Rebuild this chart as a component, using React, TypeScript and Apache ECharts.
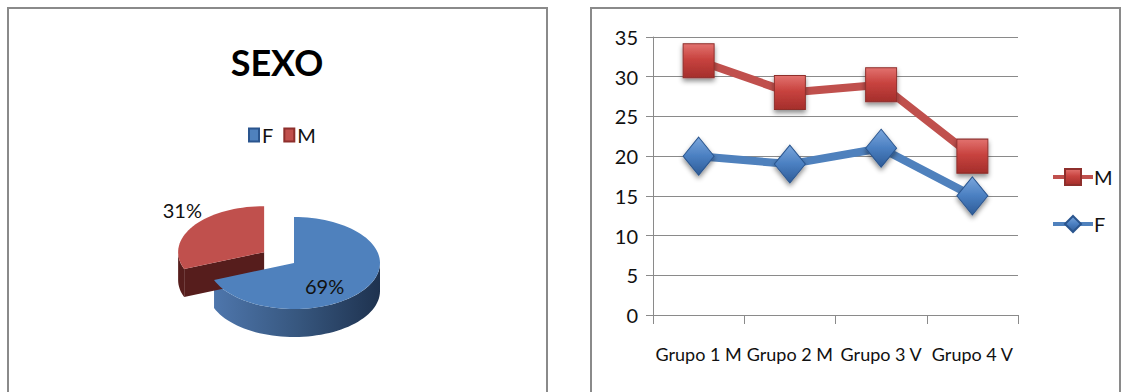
import React, { useEffect, useRef } from "react";
import * as echarts from "echarts";

// ---- data ----
const sexCategories = ["F", "M"];
const sexValues = [69, 31];

const groupCategories = ["Grupo 1 M", "Grupo 2 M", "Grupo 3 V", "Grupo 4 V"];
const seriesM = [32, 28, 29, 20];
const seriesF = [20, 19, 21, 15];

// ---- style ----
const FONT = "Lato, 'Open Sans', sans-serif";
const BLUE = "#4F81BD";
const RED = "#C0504D";
const PIE = { cx: 294, cy: 263, rx: 86, ry: 46, depth: 28 };
const EXPLODE = [0, 0.42];
const LABEL_K = [
  [0.43, 0.9],
  [1.15, 1.62],
];
const TOP_COLORS = [BLUE, RED];

function sideFill(i: number) {
  if (i === 0)
    return new echarts.graphic.LinearGradient(0, 0, 1, 0, [
      { offset: 0, color: "#4E76AC" },
      { offset: 0.5, color: "#37577F" },
      { offset: 1, color: "#1E324F" },
    ]);
  return "#561D1C";
}

function renderPie(params: any, api: any) {
  const i = params.dataIndex;
  const v = api.value(0);
  const total = sexValues.reduce((a, b) => a + b, 0);
  let start = 0;
  for (let k = 0; k < i; k++) start += sexValues[k];
  const a0 = (start / total) * Math.PI * 2;
  const a1 = ((start + v) / total) * Math.PI * 2;
  const mid = (a0 + a1) / 2;
  const ex = EXPLODE[i] || 0;
  const ox = PIE.cx + Math.sin(mid) * PIE.rx * ex;
  const oy = PIE.cy - Math.cos(mid) * PIE.ry * ex;
  const pt = (a: number, d = 0) => [ox + Math.sin(a) * PIE.rx, oy - Math.cos(a) * PIE.ry + d];
  const arc = (s: number, e: number, d = 0) => {
    const pts: number[][] = [];
    const n = Math.max(2, Math.ceil(((e - s) / (Math.PI * 2)) * 120));
    for (let k = 0; k <= n; k++) pts.push(pt(s + ((e - s) * k) / n, d));
    return pts;
  };
  const children: any[] = [];
  const vs = Math.max(a0, Math.PI / 2);
  const ve = Math.min(a1, (Math.PI * 3) / 2);
  if (ve > vs) {
    const topArc = arc(vs, ve);
    const botArc = arc(vs, ve, PIE.depth).reverse();
    children.push({
      type: "polygon",
      z2: 1,
      shape: { points: topArc.concat(botArc) },
      style: { fill: sideFill(i), stroke: "none" },
    });
  }
  const faceVisible = (phi: number) => Math.cos(phi) < -1e-6;
  const radial = (a: number) => {
    const p = pt(a);
    return [[ox, oy], p, [p[0], p[1] + PIE.depth], [ox, oy + PIE.depth]];
  };
  if (faceVisible(a0 - Math.PI / 2))
    children.push({ type: "polygon", z2: 2, shape: { points: radial(a0) }, style: { fill: sideFill(i) } });
  if (faceVisible(a1 + Math.PI / 2))
    children.push({ type: "polygon", z2: 2, shape: { points: radial(a1) }, style: { fill: sideFill(i) } });
  children.push({
    type: "polygon",
    z2: 10,
    shape: { points: [[ox, oy]].concat(arc(a0, a1)) },
    style: { fill: TOP_COLORS[i] },
  });
  const kk = LABEL_K[i];
  children.push({
    type: "text",
    z2: 20,
    style: {
      text: Math.round((v / total) * 100) + "%",
      x: ox + Math.sin(mid) * PIE.rx * kk[0],
      y: oy - Math.cos(mid) * PIE.ry * kk[1],
      align: "center",
      verticalAlign: "middle",
      fill: "#111",
      font: `20px ${FONT}`,
    },
  });
  return { type: "group", children };
}

export default function App() {
  const ref = useRef<HTMLDivElement>(null);
  useEffect(() => {
    if (!ref.current) return;
    const chart = echarts.init(ref.current, undefined, { renderer: "svg" });
    const redGrad = new echarts.graphic.LinearGradient(0, 0, 0, 1, [
      { offset: 0, color: "#E2726F" },
      { offset: 0.45, color: "#C8433F" },
      { offset: 1, color: "#A42E2B" },
    ]);
    const blueGrad = new echarts.graphic.LinearGradient(0, 0, 0, 1, [
      { offset: 0, color: "#7AA6DC" },
      { offset: 0.5, color: "#4A7FC1" },
      { offset: 1, color: "#2E5C98" },
    ]);
    chart.setOption({
      animation: false,
      textStyle: { fontFamily: FONT },
      graphic: [
        {
          type: "rect",
          shape: { x: 8, y: 8, width: 539, height: 420 },
          style: { fill: "none", stroke: "#8A8A8A", lineWidth: 2 },
          z: -10,
        },
        {
          type: "rect",
          shape: { x: 591, y: 8, width: 529, height: 420 },
          style: { fill: "none", stroke: "#8A8A8A", lineWidth: 2 },
          z: -10,
        },
        {
          type: "text",
          x: 277,
          y: 62,
          style: {
            text: "SEXO",
            align: "center",
            verticalAlign: "middle",
            font: `bold 36px ${FONT}`,
            fill: "#000",
          },
        },
      ],
      legend: [
        {
          data: sexCategories.map((n, i) => ({ name: n, itemStyle: { color: TOP_COLORS[i] } })),
          left: 243,
          top: 120,
          icon: "rect",
          itemWidth: 10,
          itemHeight: 13,
          itemGap: 10,
          textStyle: { fontSize: 20, fontFamily: FONT, color: "#111", padding: [0, 0, 0, -2] },
          selectedMode: false,
        },
        {
          data: ["M", "F"],
          orient: "vertical",
          left: 1046,
          top: 162,
          itemWidth: 40,
          itemHeight: 20,
          itemGap: 27,
          lineStyle: { width: 4 },
          textStyle: { fontSize: 20, fontFamily: FONT, color: "#111", padding: [0, 0, 0, -4] },
          selectedMode: false,
        },
      ],
      grid: { left: 653, right: 103, top: 37, bottom: 77, containLabel: false },
      xAxis: {
        type: "category",
        data: groupCategories,
        boundaryGap: true,
        axisLine: { lineStyle: { color: "#8A8A8A", width: 1 } },
        axisTick: { show: true, interval: 0, length: 9, lineStyle: { color: "#8A8A8A" } },
        axisLabel: { interval: 0, fontSize: 18, fontFamily: FONT, color: "#111", margin: 30 },
      },
      yAxis: {
        type: "value",
        min: 0,
        max: 35,
        interval: 5,
        axisLine: { show: true, lineStyle: { color: "#8A8A8A", width: 1 } },
        axisTick: { show: true, length: 7, lineStyle: { color: "#8A8A8A" } },
        axisLabel: { fontSize: 20, fontFamily: FONT, color: "#111", margin: 15 },
        splitLine: { lineStyle: { color: "#8A8A8A", width: 1 } },
      },
      series: [
        {
          type: "custom",
          name: "SEXO",
          coordinateSystem: "none",
          renderItem: renderPie,
          data: sexValues.map((v, i) => ({ name: sexCategories[i], value: [v] })),
          silent: true,
        },
        {
          type: "line",
          name: "M",
          data: seriesM,
          symbol: "rect",
          symbolSize: [31, 34],
          lineStyle: { color: RED, width: 8 },
          itemStyle: {
            color: redGrad,
            borderColor: "#8E2F2C",
            borderWidth: 1,
            shadowColor: "rgba(0,0,0,0.45)",
            shadowBlur: 5,
            shadowOffsetY: 3,
          },
          z: 3,
        },
        {
          type: "line",
          name: "F",
          data: seriesF,
          symbol: "diamond",
          symbolSize: [31, 38],
          lineStyle: { color: BLUE, width: 8 },
          itemStyle: {
            color: blueGrad,
            borderColor: "#2A558E",
            borderWidth: 1,
            shadowColor: "rgba(0,0,0,0.45)",
            shadowBlur: 5,
            shadowOffsetY: 3,
          },
          z: 3,
        },
      ],
    });
    return () => chart.dispose();
  }, []);
  return (
    <div
      ref={ref}
      style={{ position: "fixed", left: 0, top: 0, width: 1121, height: 392, background: "#fff" }}
    />
  );
}
